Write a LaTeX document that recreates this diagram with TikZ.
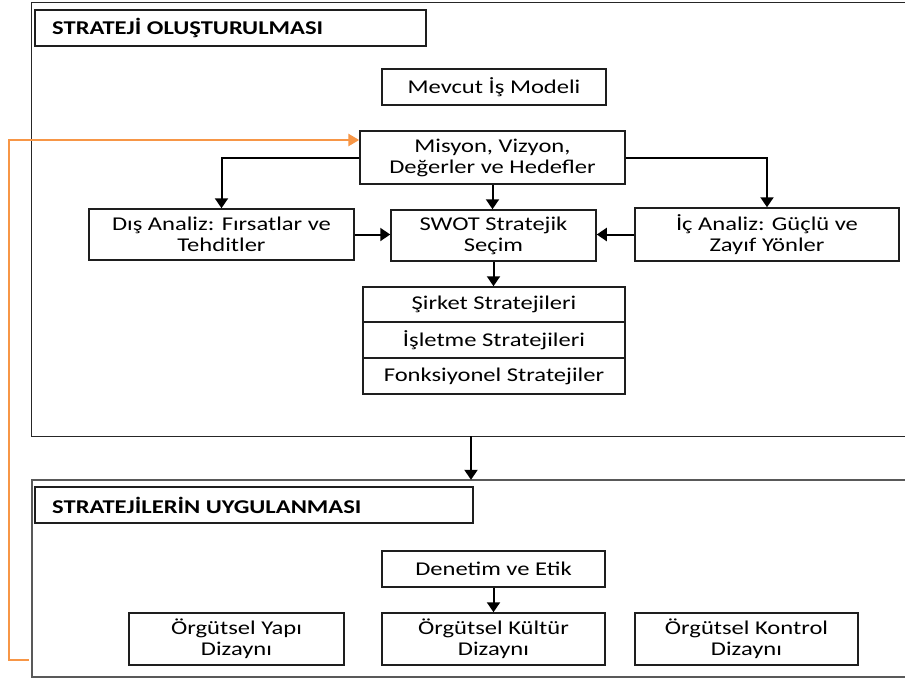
\documentclass[tikz,border=0pt]{standalone}
\usepackage{fontspec}
\setmainfont{Carlito}[FakeStretch=1.26]
\usetikzlibrary{arrows.meta}
\definecolor{orangeline}{RGB}{247,150,70}
\definecolor{boxline}{RGB}{30,30,30}
\begin{document}
\begin{tikzpicture}[x=1pt,y=-1pt,
  box/.style={draw=boxline, line width=1.5pt, inner sep=0pt, align=center,
    font=\fontsize{19.5}{21}\selectfont},
  outer/.style={inner sep=0pt},
  ttl/.style={anchor=west, inner sep=0pt, font=\fontsize{19.5}{21}\selectfont\bfseries},
  arr/.style={draw=black, line width=2pt, -{Triangle[length=10pt,width=13pt]}},
  oarr/.style={draw=orangeline, line width=2.8pt, -{Triangle[length=11pt,width=12pt]}}
]
\clip (0,0) rectangle (905,678);
\fill[white] (0,0) rectangle (905,678);
% outer containers (right side runs off the picture)
\node[outer, minimum width=878pt, minimum height=433pt] (top) at (471,219.5) {};
\node[outer, minimum width=878pt, minimum height=197pt] (bot) at (471,578.5) {};
\draw[draw=black!85, line width=1.2pt] (top.north east) -- (top.north west) -- (top.south west) -- (top.south east);
\draw[draw=black!65, line width=1.6pt] (bot.north east) -- (bot.north west) -- (bot.south west) -- (bot.south east);
% titles
\node[box, minimum width=391pt, minimum height=36pt] (t1) at (230.5,28) {};
\node[ttl] (t1txt) at (52,28) {STRATEJİ OLUŞTURULMASI};
\node[box, minimum width=438pt, minimum height=36pt] (t2) at (254,505) {};
\node[ttl] (t2txt) at (52,505) {STRATEJİLERİN UYGULANMASI};
% top part
\node[box, minimum width=224pt, minimum height=36pt] (mevcut) at (494,87) {Mevcut İş Modeli};
\node[box, minimum width=265pt, minimum height=53pt] (misyon) at (492.5,157.5) {Misyon, Vizyon,\\Değerler ve Hedefler};
\node[box, minimum width=265pt, minimum height=51pt] (dis) at (221.5,234.5) {Dış Analiz: Fırsatlar ve\\Tehditler};
\node[box, minimum width=205pt, minimum height=51pt] (swot) at (493.5,235.5) {SWOT Stratejik\\Seçim};
\node[box, minimum width=264pt, minimum height=53pt] (ic) at (767,234.5) {İç Analiz: Güçlü ve\\Zayıf Yönler};
\node[box, minimum width=262pt, minimum height=35pt] (sirket) at (494,304.5) {Şirket Stratejileri};
\node[box, minimum width=262pt, minimum height=36pt] (isletme) at (494,340) {İşletme Stratejileri};
\node[box, minimum width=262pt, minimum height=36pt] (fonk) at (494,376) {Fonksiyonel Stratejiler};
% bottom part
\node[box, minimum width=223pt, minimum height=36pt] (denetim) at (493.5,569) {Denetim ve Etik};
\node[box, minimum width=215pt, minimum height=52pt] (yapi) at (236.5,639) {Örgütsel Yapı\\Dizaynı};
\node[box, minimum width=223pt, minimum height=52pt] (kultur) at (493.5,639) {Örgütsel Kültür\\Dizaynı};
\node[box, minimum width=223pt, minimum height=52pt] (kontrol) at (746.5,639) {Örgütsel Kontrol\\Dizaynı};
% connectors
\draw[arr] (misyon.west) -| (dis.north);
\draw[arr] (misyon.east) -| (ic.north);
\draw[arr] (misyon.south) -- (misyon.south |- swot.north);
\draw[arr] (dis.east) -- (dis.east -| swot.west);
\draw[arr] (ic.west) -- (ic.west -| swot.east);
\draw[arr] (swot.south) -- (swot.south |- sirket.north);
\coordinate (tb) at (471,0);
\draw[arr] (tb |- top.south) -- (tb |- bot.north);
\draw[arr] (denetim.south) -- (denetim.south |- kultur.north);
% orange feedback
\coordinate (ostart) at (29,660);
\coordinate (oleft) at (9,660);
\coordinate (otop) at (9,140);
\draw[oarr] (ostart) -- (oleft) -- (otop) -- (otop -| misyon.west);
\end{tikzpicture}
\end{document}
